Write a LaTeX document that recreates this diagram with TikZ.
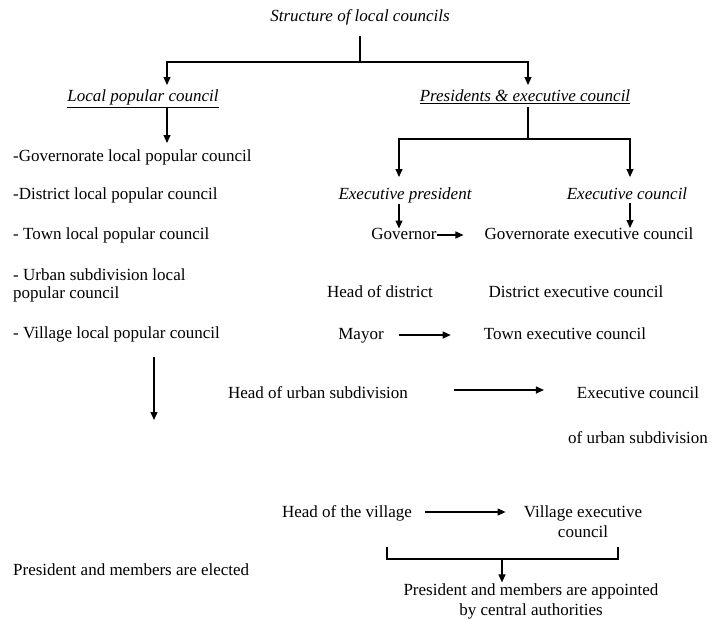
\documentclass[tikz,border=0pt]{standalone}
\usepackage{fontspec}
\setmainfont{Liberation Serif}
\usetikzlibrary{arrows.meta}
\begin{document}
\begin{tikzpicture}[x=1pt,y=-1pt,
  lbl/.style={inner sep=0pt, font=\fontsize{17}{20}\selectfont},
  arr/.style={-{Triangle[length=8pt,width=7pt]}, line width=1.1pt},
  ln/.style={line width=1.1pt}]
\useasboundingbox[fill=white] (0,0) rectangle (723,620);

% top level
\node[lbl,anchor=base] (title) at (360,22) {\itshape Structure of local councils};
\node[lbl,anchor=base] (lpc) at (143,102) {\itshape\underline{Local popular council}};
\node[lbl,anchor=base] (pec) at (525,102) {\itshape\underline{Presidents \& executive council}};

% left column
\node[lbl,anchor=base west] (l1) at (13,162) {-Governorate local popular council};
\node[lbl,anchor=base west] (l2) at (13,200) {-District local popular council};
\node[lbl,anchor=base west] (l3) at (13,240) {- Town local popular council};
\node[lbl,anchor=north west,align=left] (l4) at (13,268.4) {- Urban subdivision local\\[-2pt]popular council};
\node[lbl,anchor=base west] (l5) at (13,338) {- Village local popular council};
\coordinate (lend) at (154,420);
\node[lbl,anchor=base west] (elected) at (13,575) {President and members are elected};

% right side
\node[lbl,anchor=base] (exp) at (405,200) {\itshape Executive president};
\node[lbl,anchor=base] (exc) at (627,200) {\itshape Executive council};
\node[lbl,anchor=base] (gov) at (404,240) {Governor};
\node[lbl,anchor=base] (gec) at (589,240) {Governorate executive council};
\node[lbl,anchor=base] (hod) at (380,298) {Head of district};
\node[lbl,anchor=base] (dec) at (576,298) {District executive council};
\node[lbl,anchor=base] (mayor) at (361,340) {Mayor};
\node[lbl,anchor=base] (tec) at (565,340) {Town executive council};
\node[lbl,anchor=base] (huv) at (318,398) {Head of urban subdivision};
\node[lbl,anchor=north,align=center] (euc) at (638,386.4) {Executive council\\[25pt]of urban subdivision};
\node[lbl,anchor=base] (hv) at (347,517) {Head of the village};
\node[lbl,anchor=north,align=center] (vec) at (583,505.4) {Village executive\\council};
\node[lbl,anchor=north,align=center] (app) at (531,583.4) {President and members are appointed\\by central authorities};

% connectors top
\coordinate (s1) at (360,62);
\draw[ln,shorten <=10pt] (title.south) -- (s1);
\draw[arr,shorten >=5pt] (s1) -| ([xshift=24pt]lpc.north);
\draw[arr,shorten >=5pt] (s1) -| ([xshift=3pt]pec.north);

\draw[arr,shorten >=7pt] ([xshift=24pt]lpc.south) -- ([xshift=24pt]lpc.south |- l1.north);
\draw[arr,shorten <=15pt] (l5.south -| lend) -- (lend);

\coordinate (s2) at (528,139);
\draw[ln,shorten <=3pt] (pec.south -| s2) -- (s2);
\draw[arr,shorten >=11pt] (s2) -| ([xshift=-6pt]exp.north);
\draw[arr,shorten >=11pt] (s2) -| ([xshift=3pt]exc.north);

\draw[arr] ([xshift=-6pt]exp.south) -- ([xshift=-6pt]exp.south |- gov.north);
\draw[arr,shorten <=3pt] ([xshift=3pt]exc.south) -- ([xshift=3pt]exc.south |- gec.north);

% horizontal arrows
\draw[arr,shorten >=21pt] ([yshift=5pt]gov.base east) -- ([yshift=5pt]gec.base west);
\draw[arr,shorten <=15pt,shorten >=33pt] ([yshift=5pt]mayor.base east) -- ([yshift=5pt]tec.base west);
\draw[arr,shorten <=46pt,shorten >=24pt] ([yshift=8pt]huv.base east) -- ([yshift=8pt]huv.base east -| euc.west);
\draw[arr,shorten <=13pt,shorten >=18pt] ([yshift=5pt]hv.base east) -- ([yshift=5pt]hv.base east -| vec.west);

% bracket
\coordinate (b1) at (387,547);
\coordinate (b2) at (618,547);
\coordinate (bm) at (502,559);
\draw[ln] (b1) -- ++(0,12) -| (b2);
\draw[arr,shorten >=1pt] (bm) -- (bm |- app.north);
\end{tikzpicture}
\end{document}
